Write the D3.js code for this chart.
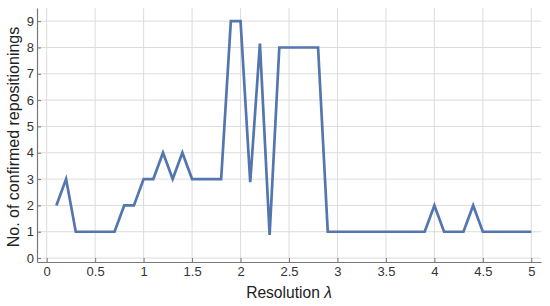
<!DOCTYPE html>
<html>
<head>
<meta charset="utf-8">
<script src="https://cdn.jsdelivr.net/npm/d3@7"></script>
<style>
    body { margin: 0; background: #fff; }
    svg { display: block; font-family: "Liberation Sans", Arial, sans-serif; }
</style>
</head>
<body>
<div class="chart"></div>
<script>
// resolution values 0.1 .. 5.0
const resolutions = [0.1, 0.2, 0.3, 0.4, 0.5, 0.6, 0.7, 0.8, 0.9, 1.0,
    1.1, 1.2, 1.3, 1.4, 1.5, 1.6, 1.7, 1.8, 1.9, 2.0,
    2.1, 2.2, 2.3, 2.4, 2.5, 2.6, 2.7, 2.8, 2.9, 3.0,
    3.1, 3.2, 3.3, 3.4, 3.5, 3.6, 3.7, 3.8, 3.9, 4.0,
    4.1, 4.2, 4.3, 4.4, 4.5, 4.6, 4.7, 4.8, 4.9, 5.0];
const repositionings = [2, 3, 1, 1, 1, 1, 1, 2, 2, 3,
    3, 4, 3, 4, 3, 3, 3, 3, 9, 9,
    2.88, 8.15, 0.88, 8, 8, 8, 8, 8, 1, 1,
    1, 1, 1, 1, 1, 1, 1, 1, 1, 2,
    1, 1, 1, 2, 1, 1, 1, 1, 1, 1];
const xTicks = [0, 0.5, 1, 1.5, 2, 2.5, 3, 3.5, 4, 4.5, 5];
const yTicks = [0, 1, 2, 3, 4, 5, 6, 7, 8, 9];

let width = 550, height = 306;
let margin = {top: 8, right: 9, bottom: 44, left: 37};

let svg = d3.select(".chart").append("svg")
    .attr("width", width).attr("height", height);

let x = d3.scaleLinear().domain([-0.1, 5.1]).range([margin.left, width - margin.right]);
let y = d3.scaleLinear().domain([-0.15, 9.5]).range([height - margin.bottom, margin.top]);

// grid
svg.append("g").selectAll("line").data(xTicks).enter().append("line")
    .attr("x1", d => x(d)).attr("x2", d => x(d))
    .attr("y1", y.range()[0]).attr("y2", y.range()[1])
    .attr("stroke", "#dcdcdc").attr("stroke-width", 1);
svg.append("g").selectAll("line").data(yTicks).enter().append("line")
    .attr("x1", x.range()[0]).attr("x2", x.range()[1])
    .attr("y1", d => y(d)).attr("y2", d => y(d))
    .attr("stroke", "#dcdcdc").attr("stroke-width", 1);

// axes (ticks pointing inwards)
let xAxis = svg.append("g")
    .attr("transform", "translate(0," + y.range()[0] + ")")
    .call(d3.axisBottom(x).tickValues(xTicks).tickFormat(d => String(d))
        .tickSizeInner(-4).tickSizeOuter(0).tickPadding(5));
let yAxis = svg.append("g")
    .attr("transform", "translate(" + x.range()[0] + ",0)")
    .call(d3.axisLeft(y).tickValues(yTicks).tickSizeInner(-4).tickSizeOuter(0).tickPadding(3));

[xAxis, yAxis].forEach(a => {
    a.select(".domain").attr("stroke", "#777").attr("stroke-width", 1.2);
    a.selectAll(".tick line").attr("stroke", "#777");
    a.selectAll(".tick text").attr("fill", "#333").attr("font-size", "13px")
        .attr("font-family", "Liberation Sans, Arial, sans-serif");
});

// line
svg.append("path")
    .datum(resolutions.map((r, i) => [r, repositionings[i]]))
    .attr("fill", "none")
    .attr("stroke", "#5276ad")
    .attr("stroke-width", 2.7)
    .attr("stroke-linejoin", "miter")
    .attr("d", d3.line().x(d => x(d[0])).y(d => y(d[1])));

// titles
let xTitle = svg.append("text")
    .attr("x", 289).attr("y", 298)
    .attr("text-anchor", "middle")
    .attr("font-size", "15.6px").attr("fill", "#222");
xTitle.append("tspan").text("Resolution ");
xTitle.append("tspan").attr("font-style", "italic").text("λ");

svg.append("text")
    .attr("transform", "translate(19,137) rotate(-90)")
    .attr("text-anchor", "middle")
    .attr("font-size", "16px").attr("fill", "#222")
    .text("No. of confirmed repositionings");
</script>
</body>
</html>
